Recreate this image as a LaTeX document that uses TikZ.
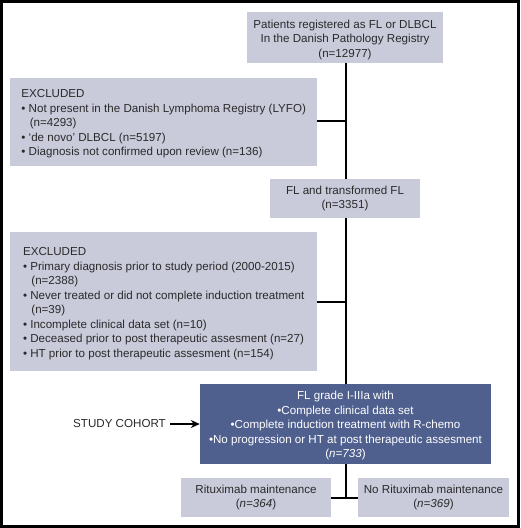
\documentclass[tikz,border=0pt]{standalone}
\usepackage{fontspec}
\setmainfont{Liberation Sans}
\usetikzlibrary{arrows.meta}
\definecolor{boxgray}{HTML}{C9CBDB}
\definecolor{boxblue}{HTML}{4F5F8E}
\definecolor{txtgray}{HTML}{2A2A2A}
\tikzset{
  greybox/.style={fill=boxgray, text=txtgray, inner sep=0pt, align=center, font=\fontsize{11.6}{14.5}\selectfont},
  exclbox/.style={greybox, align=left, minimum width=307pt, anchor=north west, inner sep=0pt},
  bluebox/.style={fill=boxblue, text=white, inner sep=0pt, align=center, font=\fontsize{11.6}{14.5}\selectfont},
  trunk/.style={line width=2pt, black}
}
\newcommand{\bul}{\textbullet\ }
\newcommand{\ind}{\hspace*{0.72em}}
\begin{document}
\begin{tikzpicture}[x=1pt, y=-1pt]
\useasboundingbox (0,0) rectangle (520,528);
\fill[white] (0,0) rectangle (520,528);
\draw[line width=3pt] (1.5,1.5) rectangle (518.5,526.5);
						\node[greybox, minimum width=196pt, minimum height=51pt] (reg) at (345, 37.5) {\rule{0pt}{13pt}Patients registered as FL or DLBCL\\In the Danish Pathology Registry\\(n=12977)};
						\node[exclbox, minimum height=88pt] (exa) at (10, 78) {\rule{0pt}{11pt}EXCLUDED\\\bul Not present in the Danish Lymphoma Registry (LYFO)\\\ind(n=4293)\\\bul `de novo' DLBCL (n=5197)\\\bul Diagnosis not confirmed upon review (n=136)};
						\node[greybox, minimum width=150pt, minimum height=39pt] (tfl) at (345, 198.5) {FL and transformed FL\\(n=3351)};
						\node[exclbox, minimum height=139pt] (exb) at (10, 232) {\rule{0pt}{12pt}EXCLUDED\\\bul Primary diagnosis prior to study period (2000-2015)\\\ind(n=2388)\\\bul Never treated or did not complete induction treatment\\\ind(n=39)\\\bul Incomplete clinical data set (n=10)\\\bul Deceased prior to post therapeutic assesment (n=27)\\\bul HT prior to post therapeutic assesment (n=154)};
						\node[bluebox, minimum width=291pt, minimum height=80pt] (coh) at (345.5, 424) {\rule{0pt}{12pt}FL grade I-IIIa with\\\textbullet Complete clinical data set\\\textbullet Complete induction treatment with R-chemo\\\textbullet No progression or HT at post therapeutic assesment\\(\textit{n=733})};
						\node[greybox, minimum width=150pt, minimum height=39pt] (rm) at (256, 497.5) {Rituximab maintenance\\(\textit{n=364})};
						\node[greybox, minimum width=151pt, minimum height=39pt] (nrm) at (433.5, 497.5) {No Rituximab maintenance\\(\textit{n=369})};
						\node[anchor=east, inner sep=0pt, text=txtgray, font=\fontsize{11.6}{14.5}\selectfont] (lbl) at (166, 424) {STUDY COHORT};
						\coordinate (sa) at (346, 121);
						\coordinate (sb) at (346, 302);
						\coordinate (sc) at (346, 497.5);
						\draw[trunk] (reg.south -| sa) -- (tfl.north -| sa);
						\draw[trunk] (tfl.south -| sb) -- (coh.north -| sb);
						\draw[trunk] (coh.south -| sc) -- (sc);
						\draw[trunk] (exa.east |- sa) -- (sa);
						\draw[trunk] (exb.east |- sb) -- (sb);
						\draw[trunk] (rm.east) -- (nrm.west);
						\draw[line width=1.5pt, -{Stealth[length=9pt, width=8pt]}] (lbl.east) ++(4,0) -- (coh.west);
					\end{tikzpicture}
\end{document}
